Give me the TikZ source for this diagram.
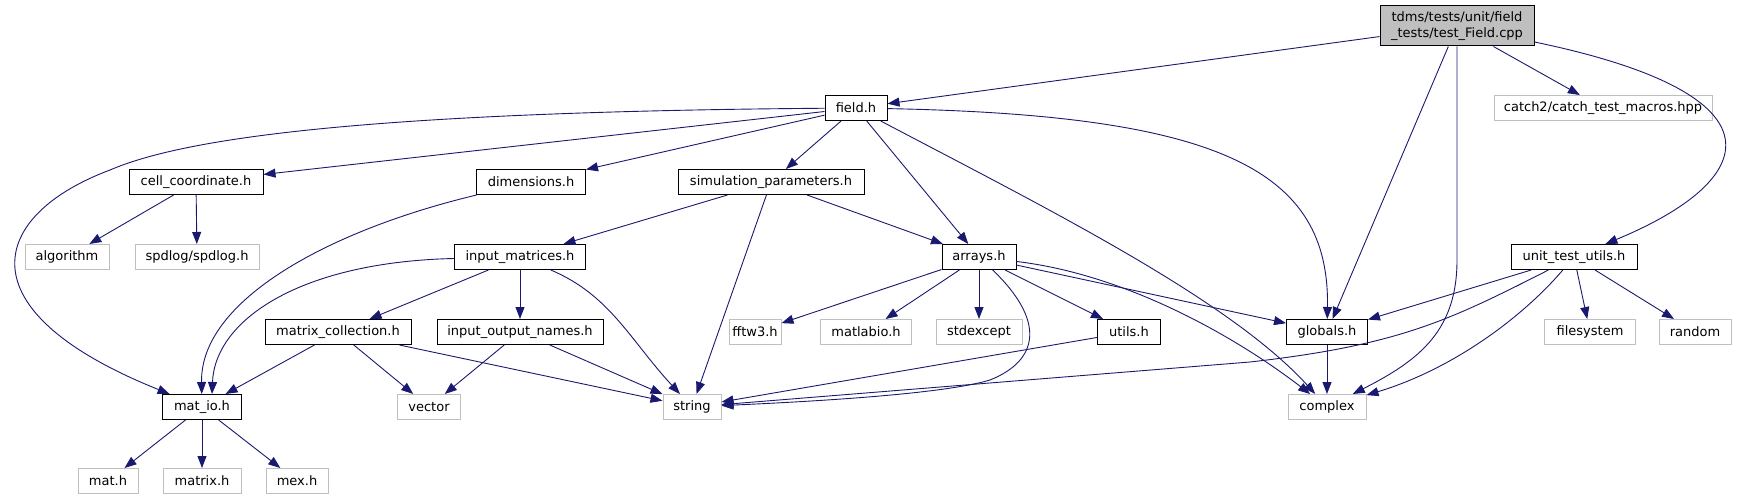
\documentclass[tikz,border=0pt]{standalone}
\usepackage{fontspec}
\setmainfont{DejaVu Sans}
\usepackage{tikz}
\usetikzlibrary{arrows.meta}
\definecolor{edgeblue}{RGB}{25,25,112}
\definecolor{grey75}{RGB}{191,191,191}
\tikzset{
  hdr/.style={draw=black, fill=white, line width=1pt, minimum height=25, inner sep=0pt, font=\fontsize{13}{16}\selectfont},
  ext/.style={hdr, draw=grey75},
  mainfile/.style={hdr, fill=grey75, align=center},
  dep/.style={draw=edgeblue, line width=0.9pt, -{Triangle[length=12pt, width=9pt]}},
}
\begin{document}
\begin{tikzpicture}[x=1pt, y=-1pt]
		\useasboundingbox (0,0) rectangle (1743,500);
		% Nodes:
		\node[mainfile, minimum width=154, minimum height=40](TF) at (1457,26){tdms/tests/unit/field\\\_tests/test\_Field.cpp};
		\node[hdr, minimum width=62](fieldh) at (856,108){field.h};
		\node[ext, minimum width=218](catch) at (1603,108){catch2/catch\_test\_macros.hpp};
		\node[hdr, minimum width=134](cellc) at (196,182){cell\_coordinate.h};
		\node[hdr, minimum width=109](dims) at (531,182){dimensions.h};
		\node[hdr, minimum width=186](simp) at (771,182){simulation\_parameters.h};
		\node[ext, minimum width=84](algo) at (67,257){algorithm};
		\node[ext, minimum width=124](spd) at (197,257){spdlog/spdlog.h};
		\node[hdr, minimum width=131](inmat) at (520,257){input\_matrices.h};
		\node[hdr, minimum width=74](arrays) at (979,257){arrays.h};
		\node[hdr, minimum width=126](utu) at (1574,257){unit\_test\_utils.h};
		\node[hdr, minimum width=146](matcol) at (338,332){matrix\_collection.h};
		\node[hdr, minimum width=166](ion) at (520,332){input\_output\_names.h};
		\node[ext, minimum width=52](fftw) at (755,332){fftw3.h};
		\node[ext, minimum width=91](matlabio) at (866,332){matlabio.h};
		\node[ext, minimum width=86](stdx) at (979,332){stdexcept};
		\node[hdr, minimum width=63](utils) at (1129,332){utils.h};
		\node[hdr, minimum width=81](globals) at (1327,332){globals.h};
		\node[ext, minimum width=91](fsys) at (1590,332){filesystem};
		\node[ext, minimum width=72](rnd) at (1695,332){random};
		\node[hdr, minimum width=79](matio) at (202,407){mat\_io.h};
		\node[ext, minimum width=63](vec) at (429,407){vector};
		\node[ext, minimum width=58](str) at (692,407){string};
		\node[ext, minimum width=78](cplx) at (1327,407){complex};
		\node[ext, minimum width=60](math) at (108,481){mat.h};
		\node[ext, minimum width=78](matrixh) at (202,481){matrix.h};
		\node[ext, minimum width=62](mexh) at (297,481){mex.h};
		% Edges:
		\draw[dep] (TF) -- (fieldh);
		\draw[dep] (TF) -- (globals);
		\draw[dep] (TF) -- (1457,260) .. controls (1457,330) and (1420,360) .. (cplx);
		\draw[dep] (TF) -- (catch);
		\draw[dep] (TF) .. controls (1790,95) and (1760,180) .. (utu);
		\draw[dep] (fieldh) .. controls (350,112) and (180,140) .. (110,170) .. controls (-10,215) and (-40,310) .. (matio);
		\draw[dep] (fieldh) -- (cellc);
		\draw[dep] (fieldh) -- (dims);
		\draw[dep] (fieldh) -- (simp);
		\draw[dep] (fieldh) -- (arrays);
		\draw[dep] (fieldh) .. controls (1050,210) and (1230,300) .. (cplx);
		\draw[dep] (fieldh) .. controls (1220,115) and (1330,170) .. (globals);
		\draw[dep] (cellc) -- (algo);
		\draw[dep] (cellc) -- (spd);
		\draw[dep] (dims) .. controls (330,230) and (200,300) .. (matio);
		\draw[dep] (simp) -- (inmat);
		\draw[dep] (simp) -- (str);
		\draw[dep] (simp) -- (arrays);
		\draw[dep] (inmat) .. controls (300,262) and (215,320) .. ([xshift=10]matio.north);
		\draw[dep] (inmat) -- (matcol);
		\draw[dep] (inmat) -- (ion);
		\draw[dep] (inmat) .. controls (610,295) and (630,340) .. (str);
		\draw[dep] (matcol) -- (matio);
		\draw[dep] (matcol) -- (vec);
		\draw[dep] (matcol) -- (str);
		\draw[dep] (ion) -- (vec);
		\draw[dep] (ion) -- (str);
		\draw[dep] (matio) -- (math);
		\draw[dep] (matio) -- (matrixh);
		\draw[dep] (matio) -- (mexh);
		\draw[dep] (arrays) -- (fftw);
		\draw[dep] (arrays) -- (matlabio);
		\draw[dep] (arrays) -- (stdx);
		\draw[dep] (arrays) -- (utils);
		\draw[dep] (arrays) -- (globals);
		\draw[dep] (arrays) .. controls (1130,275) and (1240,340) .. (cplx);
		\draw[dep] (arrays) .. controls (1045,320) and (1040,360) .. (990,380) .. controls (940,395) and (800,402) .. (str);
		\draw[dep] (utils) -- (str);
		\draw[dep] (globals) -- (cplx);
		\draw[dep] (utu) -- (globals);
		\draw[dep] (utu) .. controls (1450,320) and (1400,345) .. (1250,362) -- (str);
		\draw[dep] (utu) .. controls (1520,320) and (1450,370) .. (cplx);
		\draw[dep] (utu) -- (fsys);
		\draw[dep] (utu) -- (rnd);
	\end{tikzpicture}
\end{document}
